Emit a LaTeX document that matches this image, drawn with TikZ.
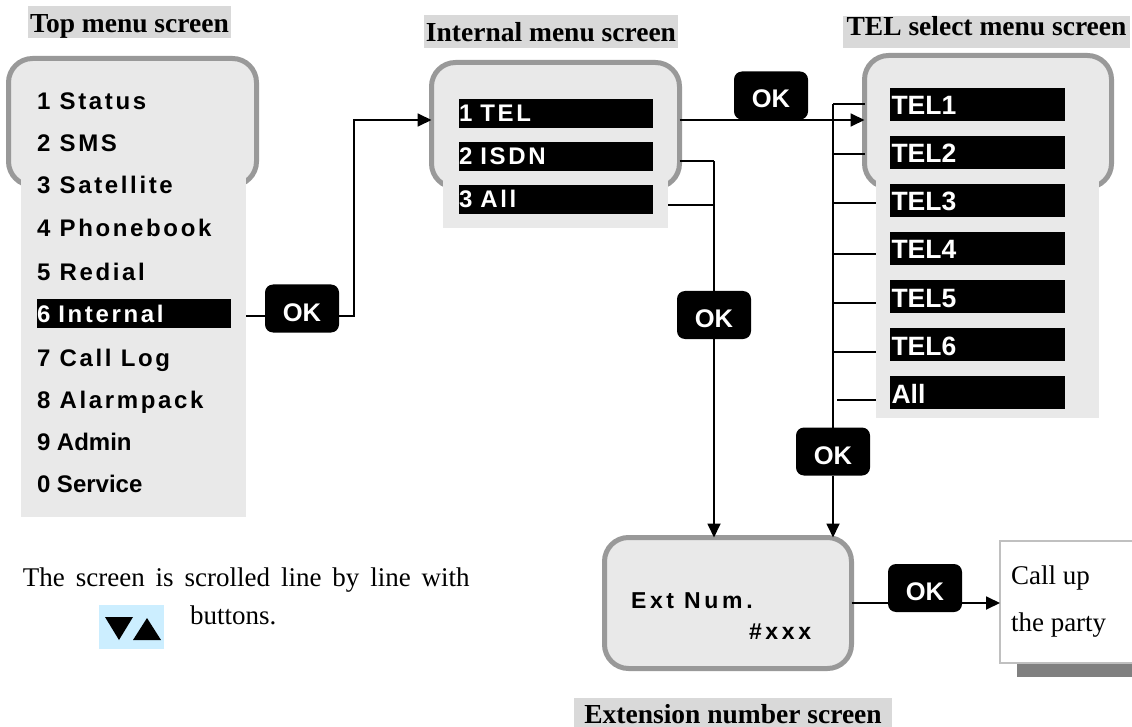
\documentclass[tikz,border=0pt]{standalone}
\usepackage{fontspec}
\setmainfont{Liberation Serif}
\newfontfamily\sansplain{Liberation Sans}
\newfontfamily\sansspaced[LetterSpace=11]{Liberation Sans}
\newfontfamily\sansext[LetterSpace=16]{Liberation Sans}
\usetikzlibrary{arrows.meta,calc}
\definecolor{framegray}{HTML}{999999}
\definecolor{bodygray}{HTML}{E9E9E9}
\definecolor{titlegray}{HTML}{D9D9D9}
\definecolor{iconblue}{HTML}{CCEEFF}
\definecolor{shadowgray}{HTML}{808080}
\definecolor{callborder}{HTML}{C0C0C0}
\begin{document}
\begin{tikzpicture}[x=1pt,y=-1pt,
  box/.style={rectangle, inner sep=0pt, outer sep=0pt, anchor=north west},
  frame/.style={box, draw=framegray, line width=5pt, fill=bodygray, rounded corners=24pt},
  body/.style={box, fill=bodygray},
  title/.style={rectangle, inner sep=0pt, outer sep=0pt, fill=titlegray, font=\bfseries\fontsize{27.5}{30}\selectfont},
  item/.style={inner sep=0pt, outer sep=0pt, anchor=base west, font=\sansspaced\bfseries\fontsize{24}{28}\selectfont},
  itemplain/.style={item, font=\sansplain\bfseries\fontsize{24}{28}\selectfont},
  ibar/.style={box, fill=black, text=white, text width=194pt, minimum height=29pt, text height=17pt, text depth=0pt, font=\sansspaced\bfseries\fontsize{24}{28}\selectfont},
  tbar/.style={box, fill=black, text=white, text width=175pt, minimum height=33pt, text height=21pt, text depth=0pt, font=\sansplain\bfseries\fontsize{26.5}{30}\selectfont},
  extt/.style={inner sep=0pt, outer sep=0pt, anchor=base west, font=\sansext\bfseries\fontsize{23}{26}\selectfont},
  okbox/.style={rectangle, fill=black, rounded corners=8pt, minimum width=74pt, minimum height=48pt, inner sep=0pt, outer sep=0pt, text=white, font=\sansplain\bfseries\fontsize{25.5}{28}\selectfont, text height=25pt, text depth=0pt},
  note/.style={inner sep=0pt, outer sep=0pt, anchor=base west, font=\fontsize{27}{30}\selectfont},
  conn/.style={line width=1.8pt},
  arr/.style={conn, -{Triangle[length=14pt,width=13pt]}},
]
\useasboundingbox (0,0) rectangle (1132,727);

% ---------- Top menu screen ----------
\node[title, minimum width=203pt, minimum height=32pt, text height=22pt, text depth=0pt] (ttop) at (129.5,22) {Top menu screen};
\node[frame, minimum width=248pt, minimum height=127pt] (topframe) at (8.5,58.5) {};
\node[body, minimum width=225pt, minimum height=367pt] (topbody) at (21,150) {};
\node[item] (m1) at (37,109.5) {1 Status};
\node[item] (m2) at (37,152) {2 SMS};
\node[item] (m3) at (37,194) {3 Satellite};
\node[item] (m4) at (37,236.5) {4 Phonebook};
\node[item] (m5) at (37,280.5) {5 Redial};
\node[ibar] (m6) at (37,299) {6 Internal};
\node[item] (m7) at (37,366) {7 Call Log};
\node[item] (m8) at (37,408.5) {8 Alarmpack};
\node[itemplain] (m9) at (37,450) {9 Admin};
\node[itemplain] (m0) at (37,492) {0 Service};

% ---------- Internal menu screen ----------
\node[title, minimum width=254pt, minimum height=33pt, text height=21pt, text depth=0pt] (tint) at (551,31.5) {Internal menu screen};
\node[frame, minimum width=248pt, minimum height=125pt] (intframe) at (431.5,62.5) {};
\node[body, minimum width=225pt, minimum height=78pt] (intbody) at (443,150) {};
\node[ibar] (i1) at (459,99) {1 TEL};
\node[ibar] (i2) at (459,142) {2 ISDN};
\node[ibar] (i3) at (459,185) {3 All};

% ---------- TEL select menu screen ----------
\node[title, minimum width=287pt, minimum height=32pt, text height=19pt, text depth=11pt] (ttel) at (986.5,32) {TEL select menu screen};
\node[frame, minimum width=247pt, minimum height=132pt] (telframe) at (864.5,55.5) {};
\node[body, minimum width=223pt, minimum height=268pt] (telbody) at (876,150) {};
\node[tbar] (t1) at (890,88) {\hspace*{1.5pt}TEL1};
\node[tbar] (t2) at (890,136) {\hspace*{1.5pt}TEL2};
\node[tbar] (t3) at (890,184) {\hspace*{1.5pt}TEL3};
\node[tbar] (t4) at (890,232) {\hspace*{1.5pt}TEL4};
\node[tbar] (t5) at (890,280) {\hspace*{1.5pt}TEL5};
\node[tbar] (t6) at (890,328) {\hspace*{1.5pt}TEL6};
\node[tbar] (t7) at (890,376) {\hspace*{1.5pt}All};

% ---------- Extension number screen ----------
\node[frame, minimum width=247pt, minimum height=131pt] (extframe) at (604.5,537.5) {};
\node[extt] (e1) at (631,608.3) {Ext Num.};
\node[extt] (e2) at (749,639) {\#xxx};
\node[title, minimum width=318pt, minimum height=29pt, text height=21pt, text depth=0pt] (text) at (733,712.5) {Extension number screen};

% ---------- Call up box ----------
\fill[shadowgray] (1017,663) rectangle (1140,677);
\node[box, draw=callborder, line width=2pt, fill=white, minimum width=140pt, minimum height=122pt] (call) at (1000,541) {};
\node[note] (c1) at (1011,584) {Call up};
\node[note] (c2) at (1011,631) {the party};

% ---------- Note ----------
\node[note] (n1) at (23,586) {\spaceskip=10.9pt\relax The screen is scrolled line by line with};
\node[box, fill=iconblue, minimum width=65pt, minimum height=44pt] (icon) at (99,605) {};
\fill (105,617) -- (133,617) -- (119,640) -- cycle;
\fill (133,640) -- (161,640) -- (147,618) -- cycle;
\node[note] (n2) at (190,624) {buttons.};

% ---------- OK buttons ----------
\node[okbox] (ok1) at (302,308.5) {OK};
\node[okbox] (ok2) at (771,95.5) {OK};
\node[okbox] (ok3) at (714,315) {OK};
\node[okbox] (ok4) at (833,451.5) {OK};
\node[okbox] (ok5) at (925,588) {OK};

% ---------- Connectors ----------
\coordinate (b1) at (354,316);
\coordinate (rowA) at (0,120);
\coordinate (v1) at (714,161);
\coordinate (v2) at (714,205);
\coordinate (bus) at (833,104);
\coordinate (r5) at (0,603);

\draw[conn] (topbody.east |- b1) -- (ok1.west |- b1);
\draw[arr] (ok1.east |- b1) -- (b1) |- (intframe.west |- rowA);
\draw[arr] (intframe.east |- rowA) -- (telframe.west |- rowA);

\draw[conn] (intframe.east |- v1) -- (v1);
\draw[conn] (intbody.east |- v2) -- (v2);
\draw[conn] (v1) -- (ok3.north);
\draw[arr] (ok3.south) -- (v1 |- extframe.north);

\draw[conn] (bus) -- (ok4.north);
\draw[arr] (ok4.south) -- (bus |- extframe.north);
\draw[conn] (bus) -- (telframe.west |- bus);
\draw[conn] (833,154) -- (telframe.west |- 0,154);
\draw[conn] (833,203) -- (telbody.west |- 0,203);
\draw[conn] (833,254) -- (telbody.west |- 0,254);
\draw[conn] (833,303) -- (telbody.west |- 0,303);
\draw[conn] (833,352) -- (telbody.west |- 0,352);
\draw[conn] (837,400) -- (telbody.west |- 0,400);

\draw[conn] (extframe.east |- r5) -- (ok5.west |- r5);
\draw[arr] (ok5.east |- r5) -- (call.west |- r5);
\end{tikzpicture}
\end{document}
